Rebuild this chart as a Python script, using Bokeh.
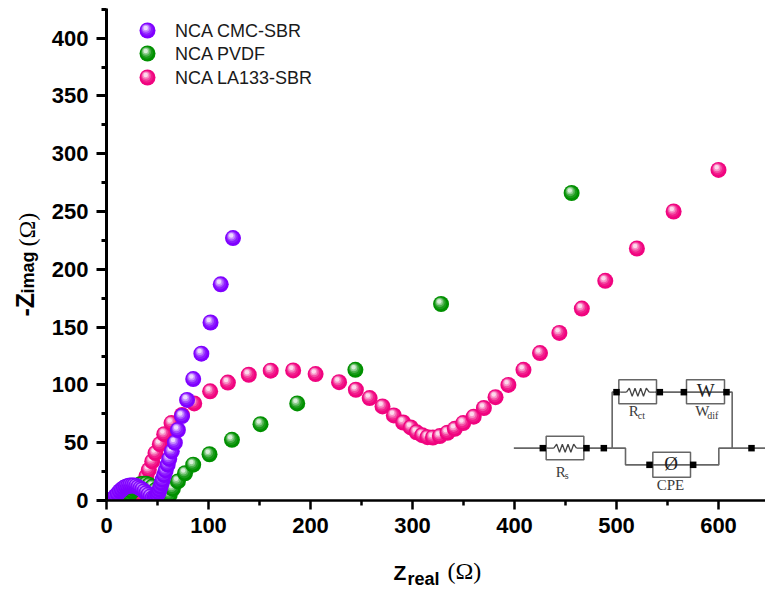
from bokeh.plotting import figure, ColumnDataSource
from bokeh.models import FixedTicker
from bokeh.core.properties import value
from bokeh.embed import file_html
from bokeh.resources import INLINE

# ---------- data ----------
cmc_x = [6,7,9,11,13,15,17,19,21,23,25,27,29,31,33,35,37,39,41,43,45,47,48.5,50,51,52,53,54,55,56.5,58,60,61.5,64,67,70,74,79,85,93,102,112,124]
cmc_y = [1,2,4,6,8,9.5,11,12,12.5,13,13,13,12.5,11.5,10.5,9.5,8,6.5,5,3.5,2,2.5,3.5,5,7,9.5,12,15,18,22,26,31,36,42.5,50,61,73,87,105,127,154,187,227]
pvdf_x = [20,21,23,25,27,29,31,33,36,39,42,45,48,50,52,54,56,58,60,62,65,70,77,85,101,123,151,187,244,328,456]
pvdf_y = [1,3,5.5,8,10,11.5,13,14,14.5,14.5,13.5,12,9,6,3.5,2,2,3,4,5,10,16.5,23.6,31,40,52.5,66,84,113,170,266]
la_x = [27,28,29,31,33,35,37,39,41.5,44.8,48,52.3,56.6,63.7,74,86,101.6,119,139.5,161,183,205,228,244.5,258,270.6,281.7,290.8,298.3,304,309.5,314.7,320,326.8,334.3,341.5,349.7,360,370,381.4,394,408.8,425,444,466,489,520,556,600]
la_y = [1,0.5,1,3,6,10,15,20.8,26.5,33.8,41,48.7,57.4,67,74,84,94.4,102,108.8,112.3,112.5,109.4,102.4,95.8,88.6,81.4,73.6,67.5,63.2,59,56.5,54.8,54.5,55.7,58.6,62,67,72.5,80,89.4,100,113,127.5,145,166,190,218,250,286]
series_names = ["NCA CMC-SBR", "NCA PVDF", "NCA LA133-SBR"]
x_ticks = [0,100,200,300,400,500,600]
x_minor = [50,150,250,350,450,550]
y_ticks = [0,50,100,150,200,250,300,350,400]
y_minor = [25,75,125,175,225,275,325,375,425]

# ---------- layout ----------
PURPLE, GREEN, PINK = "#7f00ff", "#009000", "#f0047f"
SX, SY = 1.02, 1.156
W, H = 765, 589
BL = 0.35  # baseline correction of the svg text, in font sizes
def dx(px): return (px - 106) / SX
def dy(py): return (500 - py) / SY

p = figure(width=W, height=H, output_backend="svg", toolbar_location=None,
           x_range=(dx(0), dx(W)), y_range=(dy(H), dy(0)),
           min_border_left=0, min_border_bottom=0, min_border_top=0, min_border_right=0,
           background_fill_color="white", border_fill_color="white", outline_line_color=None)
p.grid.visible = False
p.xaxis.fixed_location = 0
p.yaxis.fixed_location = 0
p.xaxis.bounds = (0, dx(W))
p.yaxis.bounds = (0, dy(8))

for ax, major, minor, lw, mt in ((p.xaxis[0], x_ticks, x_minor, 2.5, 9), (p.yaxis[0], y_ticks, y_minor, 3, 10)):
    ax.ticker = FixedTicker(ticks=major, minor_ticks=minor)
    ax.axis_line_width = lw
    ax.axis_line_color = "black"
    ax.major_tick_line_width = lw
    ax.minor_tick_line_width = lw
    ax.major_tick_line_color = "black"
    ax.minor_tick_line_color = "black"
    ax.major_tick_in = 0
    ax.minor_tick_in = 0
    ax.major_tick_out = mt
    ax.minor_tick_out = 5
    ax.major_label_text_font = "Liberation Sans"
    ax.major_label_text_font_style = "bold"
    ax.major_label_text_font_size = "22px"
    ax.major_label_text_color = "black"
p.xaxis[0].major_label_standoff = 8
p.yaxis[0].major_label_standoff = 8

def mix(c, t):
    r, g, b = int(c[1:3], 16), int(c[3:5], 16), int(c[5:7], 16)
    f = lambda v: int(round(v + (255 - v) * t))
    return "#%02x%02x%02x" % (f(r), f(g), f(b))

LAYERS = [(16, 0, 0, 0.0), (12, -0.6, -0.8, 0.1), (9.5, -1.2, -1.6, 0.3), (7, -1.6, -2.2, 0.56), (4.5, -1.8, -2.6, 0.85)]
def sphere(xs, ys, color):
    X, Y, S, C = [], [], [], []
    for x, y in zip(xs, ys):
        for size, ox, oy, t in LAYERS:
            X.append(x + ox / SX)
            Y.append(y - oy / SY)
            S.append(size)
            C.append(mix(color, t))
    src = ColumnDataSource(dict(x=X, y=Y, size=S, color=C))
    return p.scatter("x", "y", source=src, size="size", fill_color="color", line_color=None)

sphere(la_x, la_y, PINK)
sphere(pvdf_x, pvdf_y, GREEN)
sphere(cmc_x, cmc_y, PURPLE)

# white masks: marks stop at the axes
p.quad(left=[dx(0)], right=[dx(W)], top=[0], bottom=[dy(H)], fill_color="white", line_color=None)
p.quad(left=[dx(0)], right=[0], top=[dy(0)], bottom=[dy(H)], fill_color="white", line_color=None)

# legend
for py, col, name in zip((30, 53, 77), (PURPLE, GREEN, PINK), series_names):
    sphere([dx(147)], [dy(py)], col)
    p.text([dx(174.5)], [dy(py)], text=[name], text_font=value("Liberation Sans"), text_font_size="18px",
           text_color="#1a1a1a", text_baseline="middle", text_align="left")

# axis titles
def lab(px, py, text, font, size, bold=True, angle=0.0):
    shift = BL * size
    if angle:
        px -= shift
    else:
        py -= shift
    p.text([dx(px)], [dy(py)], text=[text], text_font=value(font), text_font_size=f"{size}px",
           text_font_style="bold" if bold else "normal", text_color="black",
           text_baseline="alphabetic", text_align="left", angle=angle)
lab(393, 579, "Z", "Liberation Sans", 21)
lab(407, 585, "real", "Liberation Sans", 18)
lab(447, 579, "(Ω)", "Liberation Serif", 24, bold=False)
A = 1.5708
lab(33, 316, "-Z", "Liberation Sans", 25, angle=A)
lab(34, 293, "imag", "Liberation Sans", 18, angle=A)
lab(35, 246, "(Ω)", "Liberation Serif", 24, bold=False, angle=A)

# equivalent circuit inset (positions measured in 3x crop units)
def cx(v): return dx(500 + v / 3)
def cy(v): return dy(370 + v / 3)
WIRE = "#666666"
wires = [
    [(40,233),(335,233)], [(335,233),(335,65),(695,65),(695,233)],
    [(335,233),(375,233),(375,283),(655,283),(655,233),(795,233)],
]
for w in wires:
    p.line([cx(a) for a, _ in w], [cy(b) for _, b in w], line_color=WIRE, line_width=1.6)
boxes = [(137,250,197,268), (355,468,28,100), (558,672,28,100), (457,570,245,320)]
for l, r, t, b in boxes:
    p.quad(left=[cx(l)], right=[cx(r)], top=[cy(t)], bottom=[cy(b)], fill_color=None, line_color=WIRE, line_width=1.5)
for x0, y0 in ((160, 233), (378, 65)):
    zx = [x0 + i * 8.5 for i in range(9)]
    zy = [y0 + (0 if i in (0, 8) else (-12 if i % 2 else 12)) for i in range(9)]
    p.quad(left=[cx(x0 - 18)], right=[cx(x0 + 85)], top=[cy(y0 - 5)], bottom=[cy(y0 + 5)], fill_color="white", line_color=None)
    p.line([cx(x0 - 18), cx(x0)], [cy(y0)] * 2, line_color=WIRE, line_width=1.5)
    p.line([cx(x0 + 68), cx(x0 + 85)], [cy(y0)] * 2, line_color=WIRE, line_width=1.5)
    p.line([cx(v) for v in zx], [cy(v) for v in zy], line_color="#444444", line_width=1.3)
nodes = [(127,233),(258,233),(310,233),(348,65),(478,65),(550,65),(678,65),(447,283),(578,283),(753,233)]
p.scatter([cx(a) for a, _ in nodes], [cy(b) for _, b in nodes], marker="square", size=6.5, fill_color="black", line_color=None)

def ctext(x, y, t, size, align="center", color="#3a3a3a"):
    p.text([cx(x)], [cy(y - 3 * BL * size)], text=[t], text_font=value("Liberation Serif"), text_font_size=f"{size}px",
           text_color=color, text_align=align, text_baseline="alphabetic")
ctext(616, 80, "W", 19, color="#222222")
ctext(512, 298, "Ø", 19, color="#222222")
ctext(166, 320, "R", 15, "left")
ctext(193, 326, "s", 10, "left")
ctext(385, 138, "R", 15, "left")
ctext(412, 145, "ct", 10, "left")
ctext(584, 138, "W", 15, "left")
ctext(620, 145, "dif", 10, "left")
ctext(510, 358, "CPE", 15)

open("out.html", "w").write(file_html(p, INLINE))
